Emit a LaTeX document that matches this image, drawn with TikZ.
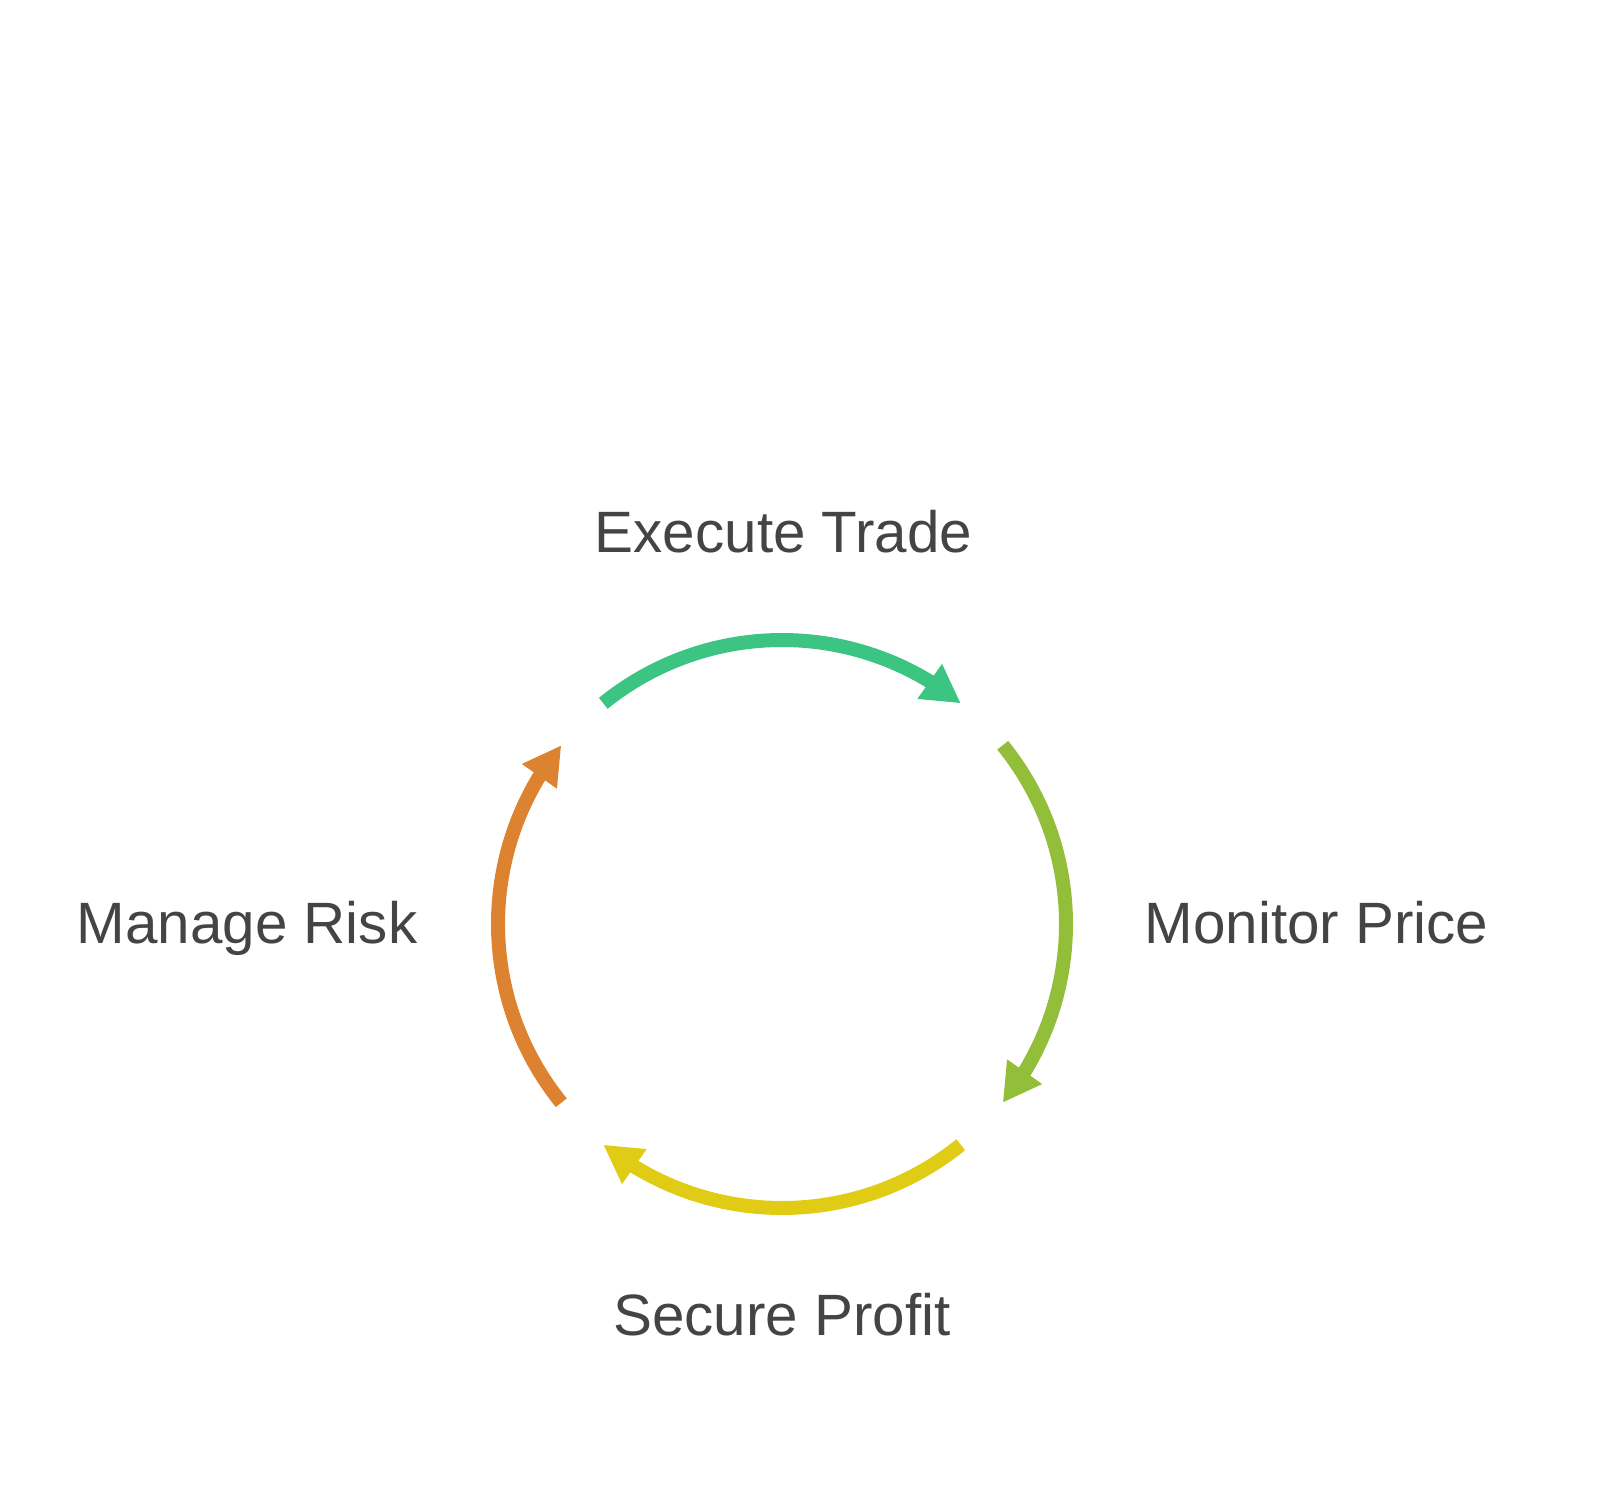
\documentclass[tikz,border=0pt]{standalone}
\usepackage{fontspec}
\setmainfont{Liberation Sans}
\usetikzlibrary{arrows.meta, bending, calc, positioning}
\definecolor{textgray}{HTML}{444444}
\definecolor{tradegreen}{HTML}{3CC482}
\definecolor{pricegreen}{HTML}{92BE3A}
\definecolor{profityellow}{HTML}{E0CC14}
\definecolor{riskorange}{HTML}{DD8230}
\tikzset{steplabel/.style={text=textgray, inner sep=0pt, font=\fontsize{16.6}{19}\selectfont}}
\tikzset{cyclearrow/.style={line width=0.14cm, -{Triangle[length=0.38cm, width=0.40cm]}}}

\begin{document}
\begin{tikzpicture}

\useasboundingbox (0,0) rectangle (16,-14.93);

% Centre of the cycle
\coordinate (hub) at (7.82,-9.24);

% Labels
\node (trade) [steplabel, anchor=base] at (7.835,-5.52) {Execute Trade};
\node (price) [steplabel, anchor=base west] at (11.44,-9.43) {Monitor Price};
\node (profit) [steplabel, anchor=base] at (7.82,-13.35) {Secure Profit};
\node (risk) [steplabel, anchor=base east] at (4.18,-9.43) {Manage Risk};

% Start points of the arcs
\coordinate (tradestart) at ($(hub)+(129:2.84)$);
\coordinate (pricestart) at ($(hub)+(39:2.84)$);
\coordinate (profitstart) at ($(hub)+(-51:2.84)$);
\coordinate (riskstart) at ($(hub)+(-141:2.84)$);

% Arcs
\draw [cyclearrow, tradegreen] (tradestart) arc[start angle=129, end angle=51, radius=2.84];
\draw [cyclearrow, pricegreen] (pricestart) arc[start angle=39, end angle=-39, radius=2.84];
\draw [cyclearrow, profityellow] (profitstart) arc[start angle=-51, end angle=-129, radius=2.84];
\draw [cyclearrow, riskorange] (riskstart) arc[start angle=-141, end angle=-219, radius=2.84];

\end{tikzpicture}
\end{document}
